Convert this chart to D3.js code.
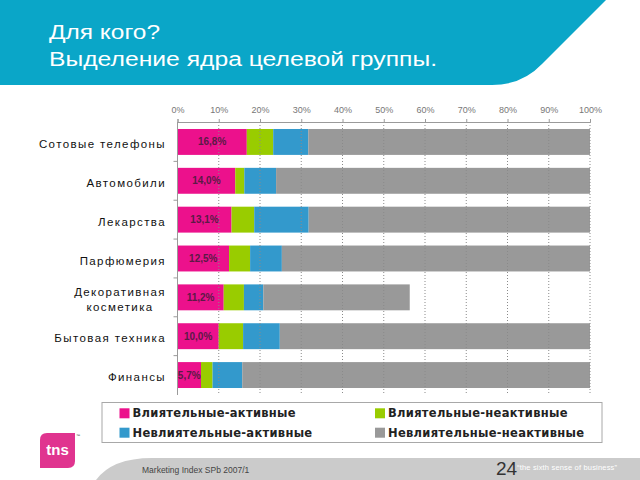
<!DOCTYPE html>
<html><head><meta charset="utf-8">
<script src="https://cdn.jsdelivr.net/npm/d3@7/dist/d3.min.js"></script>
<style>
html,body{margin:0;padding:0;background:#fff;}
svg{display:block;}
</style></head>
<body>
<svg id="chart" width="640" height="480"></svg>
<script>
// ---- data ----
const categories = ["Сотовые телефоны","Автомобили","Лекарства","Парфюмерия","Декоративная косметика","Бытовая техника","Финансы"];
const categoryLines = [["Сотовые телефоны"],["Автомобили"],["Лекарства"],["Парфюмерия"],["Декоративная","косметика"],["Бытовая техника"],["Финансы"]];
const seriesNames = ["Влиятельные-активные","Влиятельные-неактивные","Невлиятельные-активные","Невлиятельные-неактивные"];
const influentialActive   = [16.8, 14.0, 13.1, 12.5, 11.2, 10.0, 5.7];
const influentialInactive = [6.4, 2.2, 5.5, 5.1, 4.9, 5.9, 2.8];
const nonInfActive        = [8.5, 7.7, 13.2, 7.7, 4.7, 8.9, 7.2];
const nonInfInactive      = [68.3, 76.1, 68.2, 74.7, 35.5, 75.2, 84.3];
const xTicks = [0,10,20,30,40,50,60,70,80,90,100];
const titleLines = ["Для кого?","Выделение ядра целевой группы."];
const footerLeft = "Marketing Index SPb 2007/1";
const pageNumber = "24";
const slogan = "“the sixth sense of business”";

const colors = ["#ec118c","#99cc00","#3399cc","#999999"];

const svg = d3.select("#chart");

// ---- header ----
svg.append("path")
  .attr("d","M0,0 L606,0 L542,64 Q522,85 492,85 L0,85 Z")
  .attr("fill","#0aa6c8");
const tl = [[49,39,111],[49,66,388]];
titleLines.forEach((t,i)=>{
  svg.append("text").attr("x",tl[i][0]).attr("y",tl[i][1])
    .attr("font-family","Liberation Sans, Arial, sans-serif").attr("font-size",20)
    .attr("fill","#fff").attr("textLength",tl[i][2]).attr("lengthAdjust","spacingAndGlyphs")
    .text(t);
});

// ---- chart ----
const x = d3.scaleLinear().domain([0,100]).range([177.5,590]);
const y = d3.scaleBand().domain(categories).range([122,395]).paddingInner(0.333).paddingOuter(0.18);

const rows = categories.map((c,i)=>({cat:c, a:influentialActive[i], b:influentialInactive[i], c2:nonInfActive[i], d:nonInfInactive[i]}));
const keys = ["a","b","c2","d"];
const stacked = d3.stack().keys(keys)(rows);

const g = svg.append("g");
g.selectAll("g.s").data(stacked).join("g").attr("class","s")
  .attr("fill",(d,i)=>colors[i])
  .selectAll("rect").data(d=>d).join("rect")
  .attr("x",d=>x(d[0])).attr("width",d=>x(d[1])-x(d[0]))
  .attr("y",d=>y(d.data.cat)).attr("height",y.bandwidth());

// gridlines (dotted) drawn over bars
g.selectAll("line.grid").data(xTicks.slice(1)).join("line").attr("class","grid")
  .attr("x1",d=>x(d)).attr("x2",d=>x(d)).attr("y1",122).attr("y2",395)
  .attr("stroke","#8a8a8a").attr("stroke-width",1).attr("stroke-dasharray","1,2");

// top axis
const xAxis = d3.axisTop(x).tickValues(xTicks).tickFormat(d=>d+"%").tickSize(3);
const ax = svg.append("g").attr("transform","translate(0,122)").call(xAxis);
ax.select(".domain").attr("stroke","#9a9a9a");
ax.selectAll(".tick line").attr("stroke","#9a9a9a");
ax.selectAll(".tick text").attr("font-family","Liberation Sans, Arial, sans-serif")
  .attr("font-size",9).attr("fill","#777").attr("y",-9);

// left axis line with band-boundary ticks
svg.append("line").attr("x1",177.5).attr("x2",177.5).attr("y1",122).attr("y2",395)
  .attr("stroke","#9a9a9a");
const bounds = categories.slice(1).map(c=>y(c)-y.step()*y.paddingInner()/2);
svg.selectAll("line.yt").data(bounds).join("line").attr("class","yt")
  .attr("x1",173.5).attr("x2",177.5).attr("y1",d=>d).attr("y2",d=>d).attr("stroke","#9a9a9a");

// category labels
categoryLines.forEach((lines,i)=>{
  const cy = y(categories[i]) + y.bandwidth()/2 + 2;
  if(lines.length===1){
    svg.append("text").attr("x",166).attr("y",cy).attr("dy","0.35em")
      .attr("text-anchor","end").attr("font-family","Liberation Sans, Arial, sans-serif")
      .attr("font-size",11.5).attr("letter-spacing",1.4).attr("fill","#111").text(lines[0]);
  } else {
    const t1 = svg.append("text").attr("x",166).attr("y",cy-7.5).attr("dy","0.35em")
      .attr("text-anchor","end").attr("font-family","Liberation Sans, Arial, sans-serif")
      .attr("font-size",11.5).attr("letter-spacing",1.4).attr("fill","#111").text(lines[0]);
    const w = t1.node().getComputedTextLength();
    svg.append("text").attr("x",166-w/2).attr("y",cy+7.5).attr("dy","0.35em")
      .attr("text-anchor","middle").attr("font-family","Liberation Sans, Arial, sans-serif")
      .attr("font-size",11.5).attr("letter-spacing",1.4).attr("fill","#111").text(lines[1]);
  }
});

// value labels on pink segments
const fmt = d=>d3.format(".1f")(d).replace(".",",")+"%";
svg.selectAll("text.val").data(stacked[0]).join("text").attr("class","val")
  .attr("x",d=>(x(d[0])+x(d[1]))/2).attr("y",d=>y(d.data.cat)+y.bandwidth()/2)
  .attr("dy","0.35em").attr("text-anchor","middle")
  .attr("font-family","Liberation Sans, Arial, sans-serif").attr("font-weight","bold")
  .attr("font-size",10).attr("fill","#5b1a46").text(d=>fmt(d.data.a));

// ---- legend ----
svg.append("rect").attr("x",102).attr("y",402.5).attr("width",500).attr("height",40)
  .attr("fill","#fff").attr("stroke","#a8a8a8");
const legPos = [[119.5,413.3],[375,413.3],[119.5,432.7],[375,432.7]];
seriesNames.forEach((n,i)=>{
  const [lx,ly] = legPos[i];
  svg.append("rect").attr("x",lx).attr("y",ly-5).attr("width",10).attr("height",10).attr("fill",colors[i]);
  svg.append("text").attr("x",lx+13).attr("y",ly).attr("dy","0.36em")
    .attr("font-family","DejaVu Sans, Verdana, sans-serif").attr("font-weight","bold")
    .attr("font-size",11.5).attr("letter-spacing",0.3).attr("fill","#222").text(n);
});

// ---- footer ----
svg.append("path").attr("d","M96,480 Q112,458 152,458 L640,458 L640,480 Z").attr("fill","#cbcbcb");
svg.append("text").attr("x",142).attr("y",473).attr("font-family","Liberation Sans, Arial, sans-serif")
  .attr("font-size",8.5).attr("fill","#444").text(footerLeft);
svg.append("text").attr("x",496).attr("y",474.5).attr("font-family","Liberation Sans, Arial, sans-serif")
  .attr("font-size",19).attr("fill","#333").text(pageNumber);
svg.append("text").attr("x",517).attr("y",470).attr("font-family","Liberation Sans, Arial, sans-serif")
  .attr("font-size",7.5).attr("fill","#fff").attr("textLength",100).text(slogan);

// tns logo
svg.append("path").attr("d","M47,433 L75,433 L75,461 Q75,468 68,468 L40,468 L40,440 Q40,433 47,433 Z").attr("fill","#e0348f");
svg.append("text").attr("x",57.5).attr("y",455).attr("text-anchor","middle")
  .attr("font-family","Liberation Sans, Arial, sans-serif").attr("font-weight","bold")
  .attr("font-size",15).attr("fill","#fff").text("tns");
svg.append("text").attr("x",76).attr("y",437).attr("font-family","Liberation Sans, Arial, sans-serif")
  .attr("font-size",4).attr("fill","#333").text("™");
</script>
</body></html>
